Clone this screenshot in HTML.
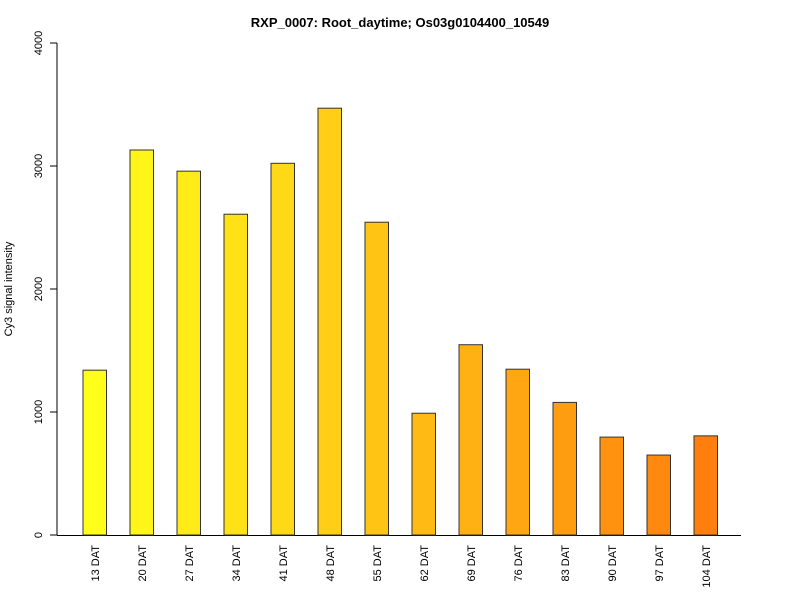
<!DOCTYPE html>
<html><head><meta charset="utf-8"><style>
body{margin:0;background:#fff}
svg text{font-family:"Liberation Sans",Arial,sans-serif}
</style></head><body>
<svg id="chart" width="800" height="600" viewBox="0 0 800 600" xmlns="http://www.w3.org/2000/svg">
<rect width="800" height="600" fill="#fff"/>
<text x="400" y="27" text-anchor="middle" font-size="13" font-weight="bold">RXP_0007: Root_daytime; Os03g0104400_10549</text>
<text transform="translate(12,289) rotate(-90)" text-anchor="middle" font-size="11">Cy3 signal intensity</text>
<g id="axes"></g>
<g id="bars"></g>
</svg>
<script>
const categories = ["13 DAT","20 DAT","27 DAT","34 DAT","41 DAT","48 DAT","55 DAT","62 DAT","69 DAT","76 DAT","83 DAT","90 DAT","97 DAT","104 DAT"];
const values = [1340,3130,2958,2608,3022,3470,2543,990,1547,1348,1078,796,650,806];
const yTicks = [0,1000,2000,3000,4000];

const NS="http://www.w3.org/2000/svg";
const y0=535, yTop=43, yMax=4000;
function yScale(v){return y0-(v/yMax)*(y0-yTop);}
function xLeft(i){return 83+i*47;}
const bw=23.5;
function color(i){
  const t=i/(categories.length-1);
  const g=Math.round(255-t*(255-127));
  const b=Math.round(26-t*(26-14));
  return `rgb(255,${g},${b})`;
}
function mk(tag,attrs,parent){const e=document.createElementNS(NS,tag);for(const k in attrs)e.setAttribute(k,attrs[k]);parent.appendChild(e);return e;}
const axes=document.getElementById('axes'), bars=document.getElementById('bars');

let yl=mk('line',{x1:57,x2:57,y1:yScale(0),y2:yScale(yMax),stroke:'#000'},axes);


let xl=mk('line',{x1:57,x2:741,y1:y0+0.5,y2:y0+0.5,stroke:'#000'},axes);



yTicks.forEach(v=>{
  const y=yScale(v);
  const tk=mk('line',{x1:50,x2:57,y1:y,y2:y,stroke:'#000'},axes);
  
  
  const t=mk('text',{transform:`translate(42,${y}) rotate(-90)`,'text-anchor':'middle','font-size':11},axes);
  t.textContent=v;
  
  
});

values.forEach((v,i)=>{
  const x=xLeft(i), y=yScale(v);
  const r=mk('rect',{x:x,y:y,width:bw,height:y0-y,fill:color(i),stroke:'#333','stroke-width':1},bars);
  
  
  const t=mk('text',{transform:`translate(${x+bw/2+4},545) rotate(-90)`,'text-anchor':'end','font-size':11},bars);
  t.textContent=categories[i];
  
  
});
</script>
</body></html>
